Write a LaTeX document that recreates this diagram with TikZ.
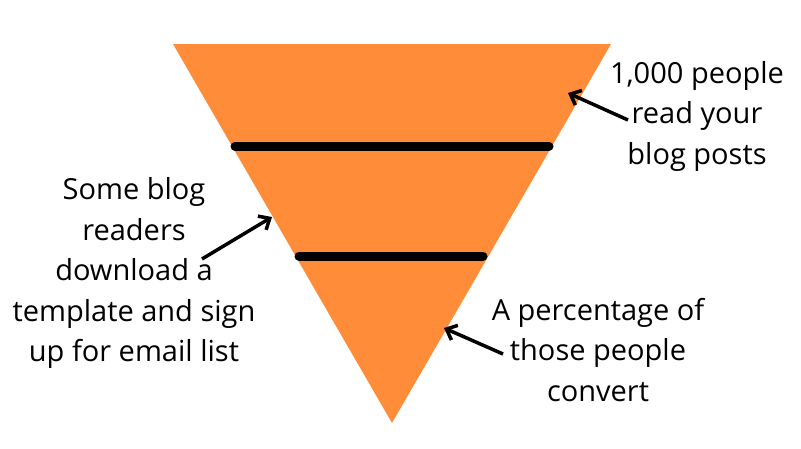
\documentclass[tikz,border=0pt]{standalone}
\usepackage{fontspec}
\setmainfont{Open Sans}
\usetikzlibrary{arrows.meta}
\definecolor{funnel}{HTML}{FF8C38}
\begin{document}
\begin{tikzpicture}[x=1pt,y=-1pt,
  label/.style={align=center,inner sep=0pt,font=\fontsize{29}{40.5}\selectfont},
  bar/.style={line width=9pt,line cap=round},
  pointer/.style={line width=3.5pt,-{Straight Barb[length=9pt,width=16pt,line width=3.5pt]}}]
\useasboundingbox (0,0) rectangle (801,448);
\fill[funnel] (173,44) coordinate (tl) -- (611,44) coordinate (tr) -- (392,423) coordinate (bt) -- cycle;
\coordinate (b1l) at (235,146); \coordinate (b1r) at (549,146);
\coordinate (b2l) at (299,256); \coordinate (b2r) at (483,256);
\draw[bar] (b1l) -- (b1r);
\draw[bar] (b2l) -- (b2r);
\node[label] (t1) at (697,116) {1,000 people\\read your\\blog posts};
\node[label] (t2) at (134,273) {Some blog\\readers\\download a\\template and sign\\up for email list};
\node[label] (t3) at (598,350) {A percentage of\\those people\\convert};
\coordinate (a1s) at (628,120); \coordinate (a1e) at (568,93);
\coordinate (a2s) at (202,259); \coordinate (a2e) at (272,217);
\coordinate (a3s) at (503,354); \coordinate (a3e) at (444,328);
\draw[pointer] (a1s) -- (a1e);
\draw[pointer] (a2s) -- (a2e);
\draw[pointer] (a3s) -- (a3e);
\end{tikzpicture}
\end{document}
